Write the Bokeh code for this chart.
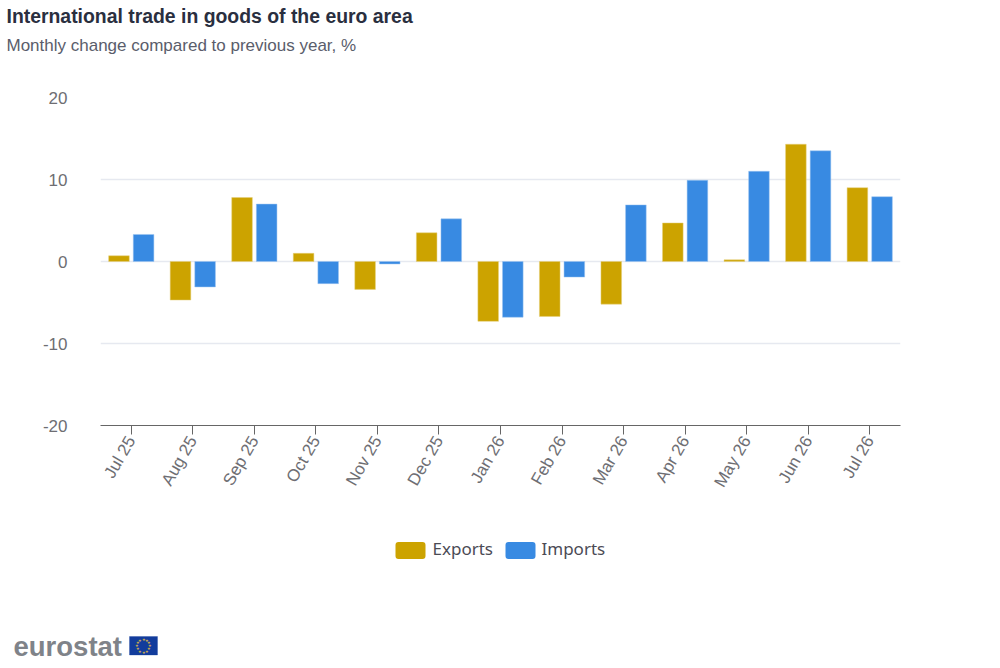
import math
from bokeh.layouts import column
from bokeh.plotting import figure
from bokeh.models import ColumnDataSource, Label, BoxAnnotation, FixedTicker, Range1d
from bokeh.transform import dodge
from bokeh.embed import file_html
from bokeh.resources import INLINE

months = ["Jul 25", "Aug 25", "Sep 25", "Oct 25", "Nov 25", "Dec 25", "Jan 26", "Feb 26", "Mar 26", "Apr 26", "May 26", "Jun 26", "Jul 26"]
exports = [0.7, -4.7, 7.8, 1.0, -3.4, 3.5, -7.3, -6.7, -5.2, 4.7, 0.2, 14.3, 9.0]
imports = [3.3, -3.1, 7.0, -2.7, -0.3, 5.2, -6.8, -1.9, 6.9, 9.9, 11.0, 13.5, 7.9]
y_ticks = [-20, -10, 0, 10, 20]
y_labels = {-20: "-20", -10: "-10", 0: "0", 10: "10", 20: "20"}
title_text = "International trade in goods of the euro area"
subtitle_text = "Monthly change compared to previous year, %"
series_names = ["Exports", "Imports"]
series_colors = ["#CCA300", "#388AE2"]

W = 1000
HEAD_H, MAIN_H, FOOT_H = 67, 433, 168


def blank(height, y_top):
    """A figure without axes whose data coordinates are page pixels."""
    f = figure(width=W, height=height, x_range=Range1d(0, W), y_range=Range1d(y_top + height, y_top),
               x_axis_location=None, y_axis_location=None, output_backend="svg", toolbar_location=None,
               min_border=0, min_border_left=0, min_border_right=0, min_border_top=0, min_border_bottom=0,
               background_fill_color="white", border_fill_color="white", frame_align=False)
    f.outline_line_color = None
    f.grid.visible = False
    return f


def text(f, t, x, y, size, color, weight="normal", font="Liberation Sans", **kw):
    f.add_layout(Label(x=x, y=y, text=t, text_font=font, text_font_size=size, text_color=color,
                       text_font_style=weight, text_baseline="middle", **kw))


head = blank(HEAD_H, 0)
text(head, title_text, 6, 15.5, "19.4px", "#2a2f3f", "bold")
text(head, subtitle_text, 6, 45, "17px", "#5a5d6b")

p = figure(x_range=months, y_range=Range1d(-20, 20), width=W, height=MAIN_H,
           output_backend="svg", toolbar_location=None,
           min_border_left=100, min_border_right=100, min_border_top=30, min_border_bottom=75,
           background_fill_color="white", border_fill_color="white", frame_align=False)
p.outline_line_color = None

src = ColumnDataSource(dict(month=months, exports=exports, imports=imports))
p.vbar(x=dodge("month", -0.2, range=p.x_range), top="exports", bottom=0, width=0.335, source=src,
       fill_color=series_colors[0], line_color="#e6d17f", line_width=0.5)
p.vbar(x=dodge("month", 0.2, range=p.x_range), top="imports", bottom=0, width=0.335, source=src,
       fill_color=series_colors[1], line_color="#9cc5f0", line_width=0.5)

p.xgrid.visible = False
p.ygrid.ticker = FixedTicker(ticks=y_ticks)
p.ygrid.grid_line_color = "#e6e9f0"
p.ygrid.grid_line_width = 1.5
p.yaxis.ticker = FixedTicker(ticks=y_ticks)
p.yaxis.major_label_overrides = y_labels
p.yaxis.axis_line_color = None
p.yaxis.major_tick_line_color = None
p.yaxis.minor_tick_line_color = None
p.yaxis.major_label_text_font = "Liberation Sans"
p.yaxis.major_label_text_font_size = "17px"
p.yaxis.major_label_text_color = "#6e6e73"
p.yaxis.major_label_standoff = 27
p.xaxis.axis_line_color = "#666666"
p.xaxis.major_tick_line_color = "#666666"
p.xaxis.major_tick_out = 9
p.xaxis.major_tick_in = 0
p.xaxis.minor_tick_line_color = None
p.xaxis.major_label_orientation = math.pi / 3
p.xaxis.major_label_text_font = "Liberation Sans"
p.xaxis.major_label_text_font_size = "17px"
p.xaxis.major_label_text_color = "#6e6e73"
p.xaxis.major_label_standoff = 3

foot = blank(FOOT_H, MAIN_H + HEAD_H)
for name, color, sx0, tx in zip(series_names, series_colors, [395, 505], [432, 541]):
    foot.add_layout(BoxAnnotation(left=sx0, right=sx0 + 30, top=541.5, bottom=558.5, fill_color=color, fill_alpha=1,
                                  line_color=None, border_radius=3))
    text(foot, name, tx, 548, "17px", "#4b4b55", font="Noto Sans")

text(foot, "eurostat", 13, 646, "27.5px", "#7f8389", "bold")
foot.add_layout(BoxAnnotation(left=129, right=157, top=636, bottom=654.5, fill_color="#123C9C", fill_alpha=1,
                              line_color="#123C9C"))
for k in range(12):
    a = k * math.pi / 6
    foot.add_layout(Label(x=143 + 6.5 * math.cos(a), y=645.2 + 6.5 * math.sin(a), text="★", text_font_size="4px",
                          text_color="#d9b84a", text_align="center", text_baseline="middle"))

page = column(head, p, foot, spacing=0)
open("out.html", "w").write(file_html(page, INLINE))
